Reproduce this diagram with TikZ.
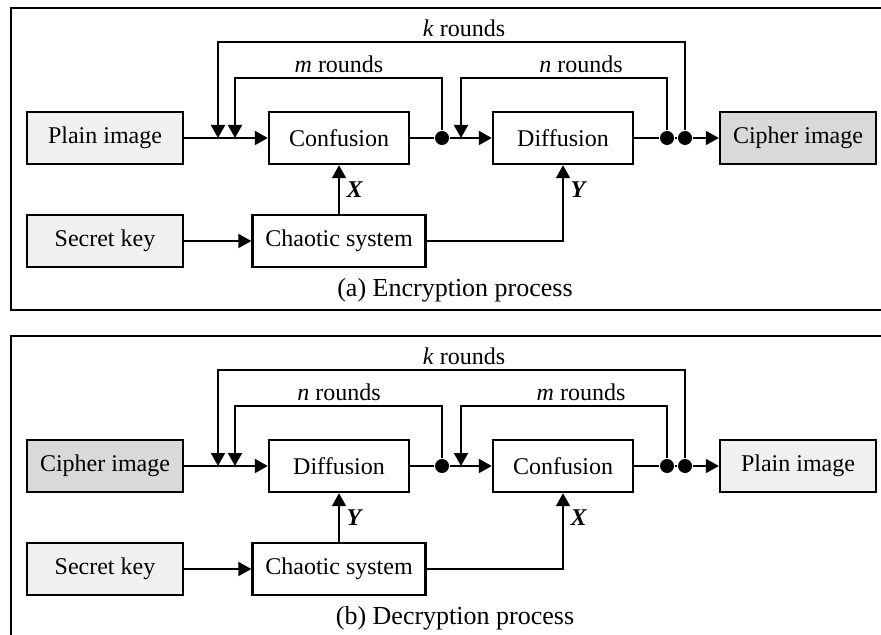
\documentclass[tikz,border=0pt]{standalone}
\usepackage{fontspec}
\setmainfont{Liberation Serif}
\usetikzlibrary{arrows.meta}
\colorlet{plainfill}{gray!12}
\colorlet{cipherfill}{gray!30}

\begin{document}
\begin{tikzpicture}[x=0.5pt,y=-0.5pt,line width=1pt,
  font=\fontsize{12}{14}\selectfont,
  >={Triangle[length=6.5pt,width=7pt]},
  block/.style={draw,line width=1.2pt,minimum height=26pt,inner sep=2pt},
  iobox/.style={block,minimum width=78pt},
  opbox/.style={block,minimum width=70pt},
  junction/.style={circle,fill,inner sep=0pt,minimum size=7pt},
  panel/.style={line width=1.4pt},
  varlabel/.style={font=\fontsize{12}{14}\selectfont\bfseries\itshape}]
  \useasboundingbox (0,0) rectangle (881,635);
  \clip (0,0) rectangle (881,635);

  \foreach \p/\dy/\inname/\infill/\first/\second/\lfirst/\lsecond/\vfirst/\vsecond/\outname/\outfill/\captxt in {
    a/0/Plain image/plainfill/Confusion/Diffusion/m/n/X/Y/Cipher image/cipherfill/(a) Encryption process,
    b/164/Cipher image/cipherfill/Diffusion/Confusion/n/m/Y/X/Plain image/plainfill/(b) Decryption process}
  {
  \begin{scope}[yshift=-\dy pt]
    \draw[panel] (11,8) rectangle (900,310);

    \node[iobox,fill=\infill] (in\p) at (105,138) {\inname};
    \node[opbox] (one\p) at (339,138) {\first};
    \node[opbox] (two\p) at (563,138) {\second};
    \node[iobox,fill=\outfill] (out\p) at (798,138) {\outname};
    \node[iobox,fill=plainfill] (key\p) at (105,241) {Secret key};
    \node[block,minimum width=86.5pt] (chaos\p) at (339,241) {Chaotic system};

    \node[junction] (ja\p) at (442,138) {};
    \node[junction] (jb\p) at (667,138) {};
    \node[junction] (jc\p) at (685,138) {};
    \coordinate (kin\p) at (218,138);
    \coordinate (fin\p) at (235,138);
    \coordinate (sin\p) at (461,138);

    \draw[->] (in\p) -- (one\p);
    \draw (one\p) -- (ja\p);
    \draw[->] (ja\p) -- (two\p);
    \draw (two\p) -- (jb\p) -- (jc\p);
    \draw[->] (jc\p) -- (out\p);
    \draw[->] (key\p) -- (chaos\p);
    \draw[->] (chaos\p) -- node[right,varlabel] {\vfirst} (one\p);
    \draw[->] (chaos\p) -| node[pos=0.84,right,varlabel] {\vsecond} (two\p);

    % feedback loops
    \draw[->] (ja\p) -- ++(0,-60) -| (fin\p);
    \draw[->] (jb\p) -- ++(0,-60) -| (sin\p);
    \draw[->] (jc\p) -- ++(0,-96) -| (kin\p);

    \node (kr\p) at (464,28) {\textit{k} rounds};
    \node (fr\p) at (339,64) {\textit{\lfirst} rounds};
    \node (sr\p) at (581,64) {\textit{\lsecond} rounds};
    \node[font=\fontsize{13}{15}\selectfont] (cap\p) at (455,290) {\captxt};
  \end{scope}
  }
\end{tikzpicture}
\end{document}
